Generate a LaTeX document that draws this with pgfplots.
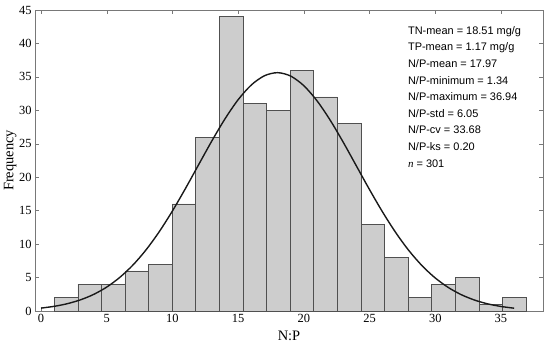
\documentclass[border=0pt]{standalone}
\usepackage{fontspec}
\setmainfont{Liberation Serif}
\newfontfamily\arial{Liberation Sans}
\usepackage{pgfplots}
\pgfplotsset{compat=1.18}
\definecolor{barfill}{RGB}{205,205,205}
\definecolor{baredge}{RGB}{80,80,80}
\definecolor{axgray}{RGB}{120,120,120}
\begin{document}
\begin{tikzpicture}
\begin{axis}[
  at={(0,0)}, anchor=south west,
  scale only axis,
  width=508bp, height=301bp,
  xmin=-0.46, xmax=38.2,
  ymin=0, ymax=45,
  xtick={0,5,...,35},
  ytick={0,5,...,45},
  tick align=inside,
  major tick length=4bp,
  axis line style={axgray},
  every tick/.style={axgray},
  /pgf/number format/assume math mode=true,
  tick label style={font=\fontsize{12.5}{14}\selectfont, black},
  label style={font=\fontsize{14.5}{16}\selectfont},
  xlabel={N:P},
  ylabel={Frequency},
  xlabel style={at={(axis description cs:0.5,-0.083)}, anchor=center},
  ylabel style={at={(axis description cs:-0.049,0.5)}, anchor=center},
  clip=false,
]
\addplot[ybar interval, fill=barfill, draw=baredge, line width=0.5pt] coordinates {
(1.0,2) (2.795,4) (4.59,4) (6.385,6) (8.18,7) (9.975,16) (11.77,26) (13.565,44)
(15.36,31) (17.155,30) (18.95,36) (20.745,32) (22.54,28) (24.335,13) (26.13,8)
(27.925,2) (29.72,4) (31.515,5) (33.31,1) (35.105,2) (36.9,0)
};
\addplot[black!90, line width=1.4pt, smooth] coordinates {
(0,0.433) (1,0.697) (2,1.094) (3,1.669) (4,2.477) (5,3.578) (6,5.035) (7,6.884)
(8,9.164) (9,11.87) (10,14.96) (11,18.35) (12,21.90) (13,25.43) (14,28.73)
(15,31.59) (16,33.79) (17,35.17) (18,35.63) (19,35.12) (20,33.68) (21,31.43)
(22,28.54) (23,25.22) (24,21.68) (25,18.14) (26,14.77) (27,11.70) (28,9.015)
(29,6.762) (30,4.935) (31,3.504) (32,2.421) (33,1.628) (34,1.065) (35,0.678) (36,0.420)
};
\node[anchor=north west, align=left, inner sep=0pt,
  font=\arial\fontsize{11}{16.7}\selectfont]
  at (rel axis cs:0.734,0.947) {
  TN-mean = 18.51 mg/g\\
  TP-mean = 1.17 mg/g\\
  N/P-mean = 17.97\\
  N/P-minimum = 1.34\\
  N/P-maximum = 36.94\\
  N/P-std = 6.05\\
  N/P-cv = 33.68\\
  N/P-ks = 0.20\\
  {\rmfamily\itshape n} = 301};
\end{axis}
\pgfresetboundingbox
\useasboundingbox (-35bp,-37bp) rectangle (515bp,311bp);
\end{tikzpicture}
\end{document}
